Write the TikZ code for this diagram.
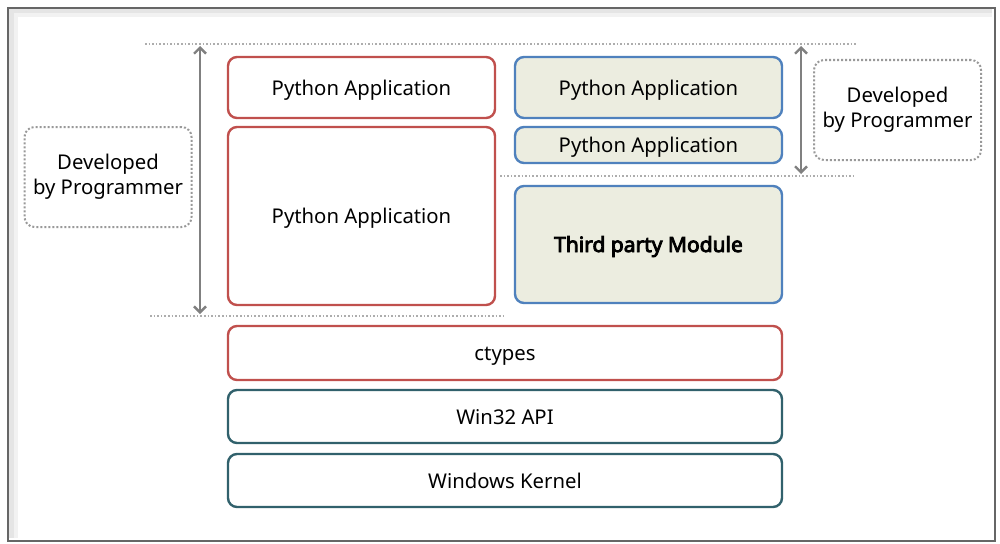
\documentclass[tikz,border=0pt]{standalone}
\usepackage{fontspec}
\setmainfont{Noto Sans}
\newfontfamily\boldface{Noto Sans}[FakeBold=4]
\usetikzlibrary{arrows.meta}
\definecolor{redc}{HTML}{C0504D}
\definecolor{bluec}{HTML}{4F81BD}
\definecolor{tealc}{HTML}{31616C}
\definecolor{fillc}{HTML}{ECEDE0}
\definecolor{dotc}{HTML}{999999}
\definecolor{arrc}{HTML}{808080}
\tikzset{
  x=1pt, y=-1pt,
  layer/.style={draw, line width=2.4pt, rounded corners=9pt, inner sep=0pt, font=\fontsize{20.3}{24}\selectfont, text=black, text height=17pt, text depth=2pt},
  redbox/.style={layer, draw=redc, fill=white},
  bluebox/.style={layer, draw=bluec, fill=fillc},
  tealbox/.style={layer, draw=tealc, fill=white},
  notebox/.style={draw=dotc, line width=2pt, dotted, rounded corners=10pt, align=center, inner sep=0pt, font=\fontsize{20.3}{25}\selectfont},
  guide/.style={draw=dotc!80, line width=1.6pt, dotted},
  dimarrow/.style={draw=arrc, line width=2.4pt, {Straight Barb[length=6pt,width=12pt,line width=2.4pt]}-{Straight Barb[length=6pt,width=12pt,line width=2.4pt]}}
}
\begin{document}
\begin{tikzpicture}
\useasboundingbox (0,0) rectangle (1000,543);
\fill[white] (0,0) rectangle (1000,543);
% outer frame with soft inner shadow on left and top
\draw[black!10, line width=5pt] (11,538) -- (11,11) -- (992,11);
\draw[black!5, line width=4pt] (15.5,538) -- (15.5,15.5) -- (992,15.5);
\draw[black!60, line width=2pt] (8,8) rectangle (995,541);

% guide lines
\coordinate (t1) at (145,44);
\coordinate (t2) at (856,44);
\coordinate (b1) at (150,316);
\coordinate (b2) at (505,316);
\coordinate (m1) at (500,176);
\coordinate (m2) at (856,176);
\draw[guide] (t1) -- (t2);
\draw[guide] (b1) -- (b2);
\draw[guide] (m1) -- (m2);

% arrows
\coordinate (la1) at (200,46);
\coordinate (la2) at (200,314);
\coordinate (ra1) at (801,46);
\coordinate (ra2) at (801,174);
\draw[dimarrow] (la1) -- (la2);
\draw[dimarrow] (ra1) -- (ra2);

% note boxes
\node[notebox, minimum width=167pt, minimum height=100pt] (nl) at (108,177) {Developed\\by Programmer};
\node[notebox, minimum width=167pt, minimum height=100pt] (nr) at (897.5,110) {Developed\\by Programmer};

% red boxes
\node[redbox, minimum width=267pt, minimum height=61pt] (pa1) at (361.5,87.5) {Python Application};
\node[redbox, minimum width=267pt, minimum height=178pt] (pa2) at (361.5,216) {Python Application};
% blue boxes
\node[bluebox, minimum width=267pt, minimum height=61pt] (pb1) at (648.5,87.5) {Python Application};
\node[bluebox, minimum width=267pt, minimum height=36pt] (pb2) at (648.5,145) {Python Application};
\node[bluebox, minimum width=267pt, minimum height=117pt, font=\fontsize{21}{24}\boldface] (tpm) at (648.5,244.5) {Third party Module};
% bottom layers
\node[redbox, minimum width=554pt, minimum height=54pt] (ct) at (505,353) {ctypes};
\node[tealbox, minimum width=554pt, minimum height=53pt] (w32) at (505,416.5) {Win32 API};
\node[tealbox, minimum width=554pt, minimum height=53pt] (wk) at (505,480.5) {Windows Kernel};
\end{tikzpicture}
\end{document}
